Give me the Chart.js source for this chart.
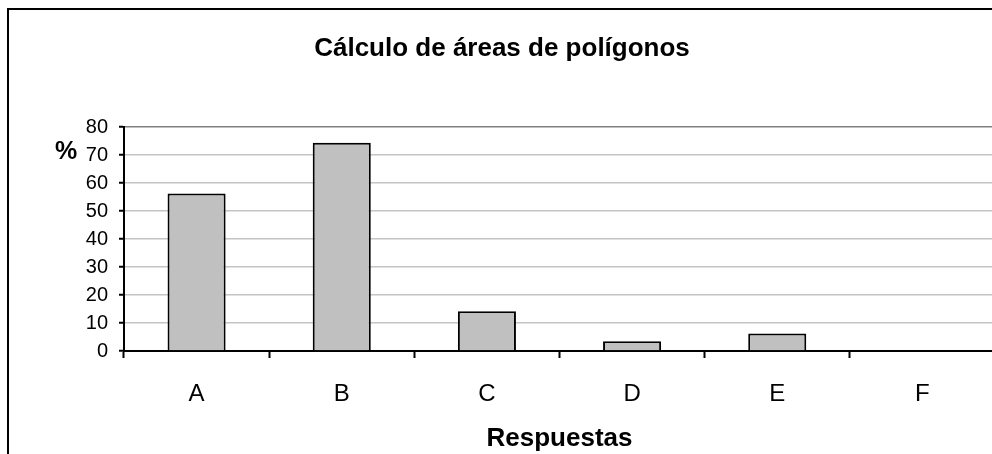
<!DOCTYPE html>
<html>
<head>
<meta charset="utf-8">
<title>Cálculo de áreas de polígonos</title>
<script src="https://cdn.jsdelivr.net/npm/chart.js@4/dist/chart.umd.min.js"></script>
<style>
  html, body { margin: 0; padding: 0; background: #fff; overflow: hidden; width: 992px; height: 454px; }
  .frame {
    position: absolute; left: 7px; top: 8px;
    width: 990px; height: 444px;
    border-left: 2px solid #000; border-top: 2px solid #000;
  }
  canvas { display: block; }
</style>
</head>
<body>
<div class="frame">
  <canvas id="chart" width="990" height="444"></canvas>
</div>
<script>
// answers and share of students (%) for each one
const respuestas = ['A', 'B', 'C', 'D', 'E', 'F'];
const porcentajes = [56.3, 74.4, 14.2, 3.5, 6.3, 0];
const yTicks = [0, 10, 20, 30, 40, 50, 60, 70, 80];

const FONT = 'Liberation Sans, Arial, sans-serif';

// "%" written level with the top of the value axis
const percentLabel = {
  id: 'percentLabel',
  afterDraw(chart) {
    const ctx = chart.ctx;
    const y = chart.scales.y;
    ctx.save();
    ctx.font = 'bold 25px ' + FONT;
    ctx.fillStyle = '#000';
    ctx.textAlign = 'center';
    ctx.textBaseline = 'middle';
    ctx.fillText('%', 57, y.getPixelForValue(71));
    ctx.restore();
  }
};

function gridColor(c) {
  if (c.tick.value === 0) return '#000';
  if (c.tick.value === yTicks[yTicks.length - 1]) return '#808080';
  return '#c4c4c4';
}

new Chart(document.getElementById('chart'), {
  type: 'bar',
  data: {
    labels: respuestas,
    datasets: [{
      data: porcentajes,
      backgroundColor: '#c0c0c0',
      borderColor: '#000',
      borderWidth: 2,
      barPercentage: 0.4,
      categoryPercentage: 1.0
    }]
  },
  options: {
    responsive: false,
    animation: false,
    layout: { padding: { left: 0, right: 4, top: 0, bottom: 0 } },
    plugins: {
      legend: { display: false },
      tooltip: { enabled: false },
      title: {
        display: true,
        text: 'Cálculo de áreas de polígonos',
        color: '#000',
        font: { family: FONT, size: 26, weight: 'bold', lineHeight: 1.2 },
        padding: { top: 23, bottom: 63 }
      }
    },
    scales: {
      x: {
        afterFit(scale) { scale.height = 103; },
        grid: {
          offset: true,
          drawOnChartArea: false,
          drawTicks: true,
          tickLength: 7,
          tickColor: '#000',
          tickWidth: 2
        },
        border: { color: '#000', width: 2 },
        ticks: {
          color: '#000',
          padding: 24,
          font: { family: FONT, size: 24, lineHeight: 1 }
        },
        title: {
          display: true,
          text: 'Respuestas',
          color: '#000',
          font: { family: FONT, size: 26, weight: 'bold', lineHeight: 1 },
          padding: { top: 0, bottom: 2 }
        }
      },
      y: {
        min: 0,
        max: 80,
        afterFit(scale) { scale.width = 115; },
        afterBuildTicks(scale) { scale.ticks = yTicks.map(v => ({ value: v })); },
        grid: {
          color: gridColor,
          lineWidth: 1.5,
          drawTicks: true,
          tickLength: 5,
          tickColor: '#000',
          tickWidth: 2
        },
        border: { color: '#000', width: 2 },
        ticks: {
          color: '#000',
          padding: 11,
          font: { family: FONT, size: 20 }
        }
      }
    }
  },
  plugins: [percentLabel]
});
</script>
</body>
</html>
